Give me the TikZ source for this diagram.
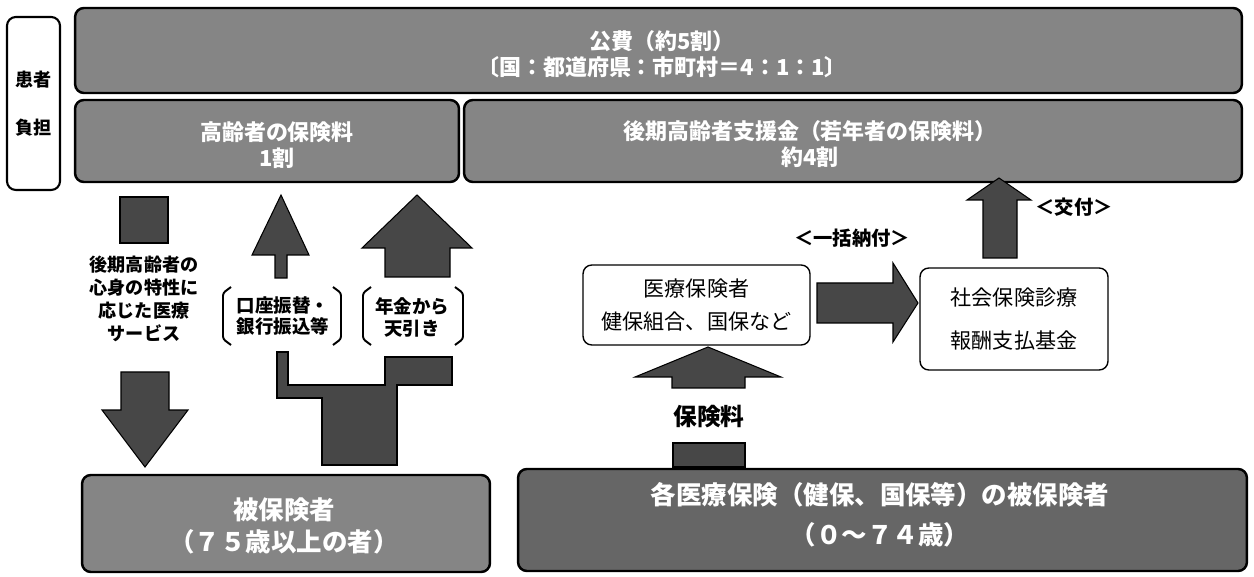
\documentclass[tikz,border=0pt]{standalone}
\usepackage{fontspec}
\setmainfont{Noto Sans CJK JP}
\definecolor{boxgray}{gray}{0.52}
\definecolor{darkboxgray}{gray}{0.40}
\definecolor{arrowgray}{gray}{0.28}
\begin{document}
\begin{tikzpicture}[x=0.02cm,y=-0.02cm,
  graybox/.style={draw=black, line width=1.4pt, fill=boxgray, rounded corners=5pt, inner sep=0pt},
  whitebox/.style={draw=black, line width=0.8pt, fill=white, rounded corners=5pt, inner sep=0pt},
  graytext/.style={text=white, align=center, font=\bfseries\fontsize{12.5}{14.5}\selectfont},
  bigtext/.style={text=white, align=center, font=\bfseries\fontsize{14.5}{18}\selectfont},
  blk/.style={fill=arrowgray, draw=black, line width=0.6pt},
  note/.style={align=center, font=\bfseries\fontsize{10.3}{13}\selectfont},
  brk/.style={draw=black, line width=1.1pt, rounded corners=1.5pt}]
\useasboundingbox (0,0) rectangle (1254,577);

% ---- boxes ----
\node[draw=black, line width=1.2pt, fill=white, rounded corners=5pt,
      minimum width=1.06cm, minimum height=3.46cm, align=center,
      font=\bfseries\fontsize{10.3}{27}\selectfont] (kanja) at (33.5,103.5) {患者\\負担};
\node[graybox, minimum width=23.34cm, minimum height=1.70cm] (kohi) at (658.5,50.5) {};
\node[graytext] (kohitxt) at (662,54) {公費（約5割）\\〔国：都道府県：市町村＝4：1：1〕};
\node[graybox, minimum width=7.68cm, minimum height=1.64cm] (korei) at (267,141) {};
\node[graytext, font=\bfseries\fontsize{12.5}{14.7}\selectfont] (koreitxt) at (277,145) {高齢者の保険料\\1割};
\node[graybox, minimum width=15.56cm, minimum height=1.64cm] (shien) at (853,141) {};
\node[graytext, font=\bfseries\fontsize{12.5}{14.7}\selectfont] (shientxt) at (810,144) {後期高齢者支援金（若年者の保険料）\\約4割};
\node[graybox, minimum width=8.16cm, minimum height=1.94cm] (hihoken) at (286,523.5) {};
\node[bigtext] (hihokentxt) at (284,526) {被保険者\\（７５歳以上の者）};
\node[graybox, fill=darkboxgray, minimum width=14.58cm, minimum height=2.04cm] (kaku) at (882.5,520) {};
\node[bigtext, font=\bfseries\fontsize{14.5}{22.5}\selectfont] (kakutxt) at (880,515) {各医療保険（健保、国保等）の被保険者\\（０～７４歳）};
\node[whitebox, minimum width=4.54cm, minimum height=1.6cm, align=center,
      font=\fontsize{12}{18.7}\selectfont] (iryo) at (696.5,305) {医療保険者\\健保組合、国保など};
\node[whitebox, minimum width=3.76cm, minimum height=2.04cm, align=center,
      font=\fontsize{12}{25}\selectfont] (shaho) at (1014,319) {社会保険診療\\報酬支払基金};

% ---- labels ----
\node[note] (service) at (144,299) {後期高齢者の\\心身の特性に\\応じた医療\\サービス};
\node[note, font=\bfseries\fontsize{10.5}{12.5}\selectfont] (kouza) at (283,316) {口座振替・\\銀行振込等};
\node[note, font=\bfseries\fontsize{10.5}{12.5}\selectfont] (nenkin) at (412,317) {年金から\\天引き};
\node[note, font=\bfseries\fontsize{11}{13}\selectfont] (ikkatsu) at (852,238) {＜一括納付＞};
\node[note, font=\bfseries\fontsize{11}{13}\selectfont] (kofu) at (1074,207) {＜交付＞};
\node[font=\bfseries\fontsize{13.5}{15}\selectfont] (hokenryo) at (709,417) {保険料};

% ---- brackets ----
\draw[brk] (231,287) -- (223,293) -- (223,339) -- (231,345);
\draw[brk] (333,287) -- (341,293) -- (341,339) -- (333,345);
\draw[brk] (371,287) -- (363,293) -- (363,339) -- (371,345);
\draw[brk] (455,287) -- (463,293) -- (463,339) -- (455,345);

% ---- block arrows ----
% service arrow (down, interrupted by text)
\path[blk] (120,197) rectangle (168,243);
\path[blk] (121,372) -- (169,372) -- (169,410) -- (188,410) -- (145,467) -- (102,410) -- (121,410) -- cycle;
% kouza arrow (up)
\path[blk] (275,278) -- (275,255) -- (252,255) -- (281,195) -- (309,255) -- (287,255) -- (287,278) -- cycle;
% nenkin arrow (up)
\path[blk] (385,277) -- (385,248) -- (362,248) -- (417,195) -- (472,248) -- (450,248) -- (450,277) -- cycle;
% split base
\path[blk] (277,352) -- (288,352) -- (288,385) -- (385,385) -- (385,357) -- (452,357)
  -- (452,385) -- (397,385) -- (397,465) -- (322,465) -- (322,398) -- (277,398) -- cycle;
% hokenryo arrow
\path[blk] (672,388) -- (672,377) -- (635,377) -- (708,347) -- (781,377) -- (745,377) -- (745,388) -- cycle;
\path[blk] (673,443) rectangle (745,467);
% ikkatsu arrow
\path[blk] (817,283) -- (893,283) -- (893,263) -- (918,303) -- (893,342) -- (893,323) -- (817,323) -- cycle;
% kofu arrow
\path[blk] (983,258) -- (983,200) -- (967,200) -- (999,178) -- (1031,200) -- (1017,200) -- (1017,258) -- cycle;
\end{tikzpicture}
\end{document}
